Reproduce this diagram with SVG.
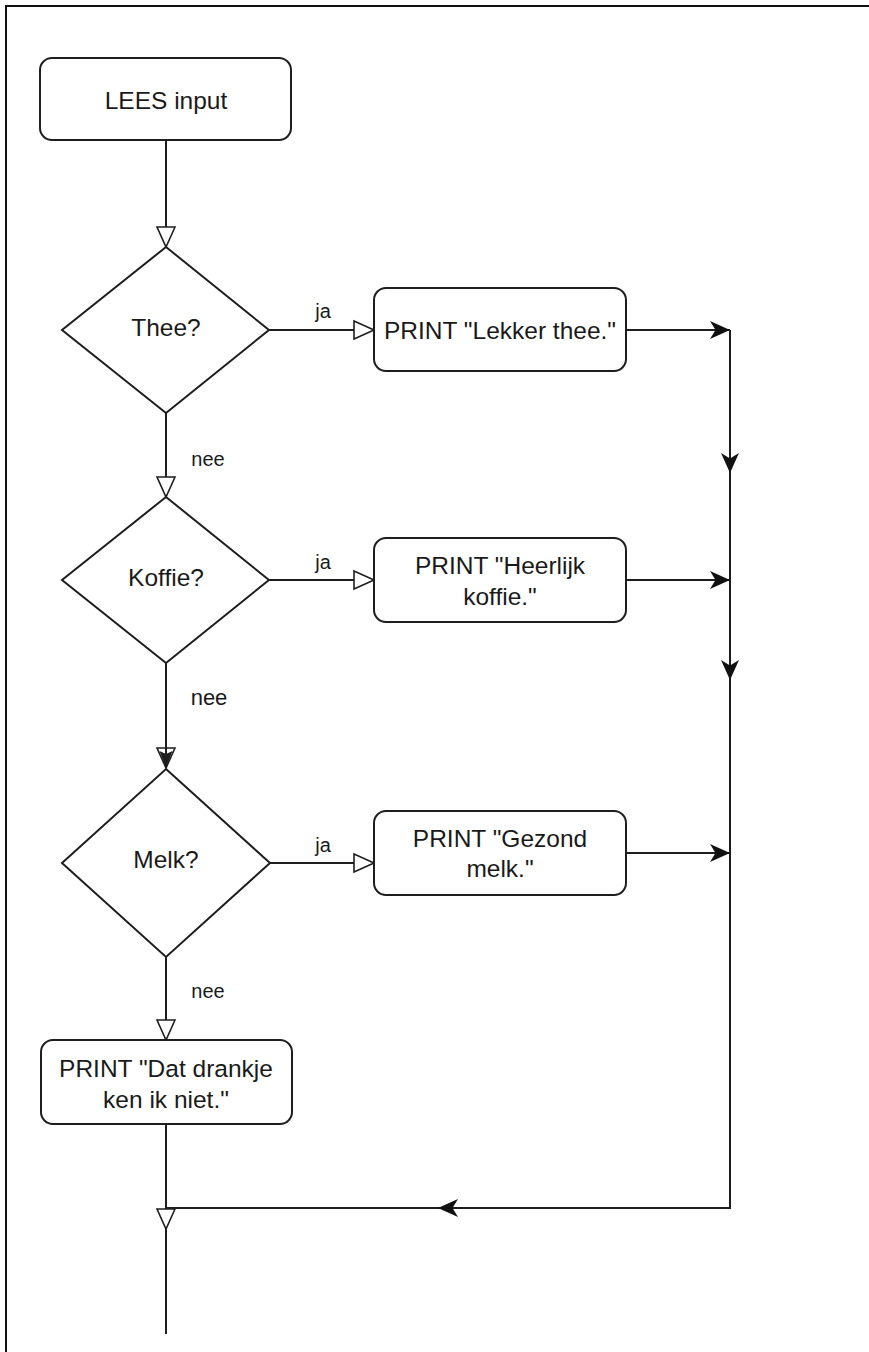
<svg xmlns="http://www.w3.org/2000/svg" width="869" height="1352" viewBox="0 0 869 1352">
<style>
.box{fill:#fff;stroke:#1e1e1e;stroke-width:2}
.edge{fill:none;stroke:#1e1e1e;stroke-width:2}
.t{font-family:"Liberation Sans",Arial,sans-serif;font-size:24.5px;fill:#1a1a1a;text-anchor:middle}
.lbl{font-family:"Liberation Sans",Arial,sans-serif;font-size:20px;fill:#1a1a1a;text-anchor:middle}
</style>
<defs>
<marker id="hollow" markerUnits="userSpaceOnUse" markerWidth="24" markerHeight="22" viewBox="0 0 24 22" refX="22" refY="11" orient="auto">
<path d="M2,2 L22,11 L2,20 Z" fill="#fff" stroke="#1e1e1e" stroke-width="1.6"/>
</marker>
<marker id="inner" markerUnits="userSpaceOnUse" markerWidth="20" markerHeight="18" viewBox="0 0 20 18" refX="19" refY="9" orient="auto">
<path d="M2,2.5 L19,9 L2,15.5 L5,9 Z" fill="#1e1e1e"/>
</marker>
<marker id="classic" markerUnits="userSpaceOnUse" markerWidth="22" markerHeight="22" viewBox="0 0 22 22" refX="21" refY="11" orient="auto">
<path d="M1,2 L21,11 L1,20 L6.5,11 Z" fill="#111"/>
</marker>
</defs>
<rect width="869" height="1352" fill="#fff"/>
<rect x="6" y="6" width="900" height="1400" fill="none" stroke="#111" stroke-width="2"/>

<g id="connectors">
<path class="edge" d="M166,141 V247" marker-end="url(#hollow)"/>
<path class="edge" d="M269,330 H374" marker-end="url(#hollow)"/>
<path class="edge" d="M626,330 H730" marker-end="url(#classic)"/>
<path class="edge" d="M730,330 V473" marker-end="url(#classic)"/>
<path class="edge" d="M730,473 V680" marker-end="url(#classic)"/>
<path class="edge" d="M730,680 V1208 H438" marker-end="url(#classic)"/>
<path class="edge" d="M438,1208 H166"/>
<path class="edge" d="M166,413 V497" marker-end="url(#hollow)"/>
<path class="edge" d="M269,580 H374" marker-end="url(#hollow)"/>
<path class="edge" d="M626,580 H730" marker-end="url(#classic)"/>
<path class="edge" d="M166,663 V768" marker-end="url(#hollow)"/>
<path class="edge" d="M166,700 V768" marker-end="url(#inner)"/>
<path class="edge" d="M270,863 H374" marker-end="url(#hollow)"/>
<path class="edge" d="M626,853 H730" marker-end="url(#classic)"/>
<path class="edge" d="M166,957 V1040" marker-end="url(#hollow)"/>
<path class="edge" d="M166,1124 V1229" marker-end="url(#hollow)"/>
<path class="edge" d="M166,1229 V1334"/>
<text class="lbl" x="323" y="318">ja</text>
<text class="lbl" x="208" y="466">nee</text>
<text class="lbl" x="323" y="569">ja</text>
<text class="lbl" x="209" y="705" style="font-size:22px">nee</text>
<text class="lbl" x="323" y="852">ja</text>
<text class="lbl" x="208" y="998">nee</text>
</g>

<g id="lees">
<rect class="box" x="40" y="58" width="251" height="82" rx="12"/>
<text class="t" x="166" y="109">LEES input</text>
</g>
<g id="thee">
<polygon class="box" points="166,247 269,330 166,413 62,330"/>
<text class="t" x="166" y="336">Thee?</text>
</g>
<g id="lekker">
<rect class="box" x="374" y="288" width="252" height="83" rx="12"/>
<text class="t" x="500" y="339">PRINT "Lekker thee."</text>
</g>
<g id="koffie">
<polygon class="box" points="166,497 269,580 166,663 62,580"/>
<text class="t" x="166" y="586">Koffie?</text>
</g>
<g id="heerlijk">
<rect class="box" x="374" y="538" width="252" height="84" rx="12"/>
<text class="t" x="500" y="574">PRINT "Heerlijk</text>
<text class="t" x="500" y="605">koffie."</text>
</g>
<g id="melk">
<polygon class="box" points="166,769 270,863 166,957 62,863"/>
<text class="t" x="166" y="868">Melk?</text>
</g>
<g id="gezond">
<rect class="box" x="374" y="811" width="252" height="84" rx="12"/>
<text class="t" x="500" y="847">PRINT "Gezond</text>
<text class="t" x="500" y="877">melk."</text>
</g>
<g id="dat">
<rect class="box" x="41" y="1040" width="251" height="84" rx="12"/>
<text class="t" x="166" y="1077">PRINT "Dat drankje</text>
<text class="t" x="166" y="1108">ken ik niet."</text>
</g>
</svg>
